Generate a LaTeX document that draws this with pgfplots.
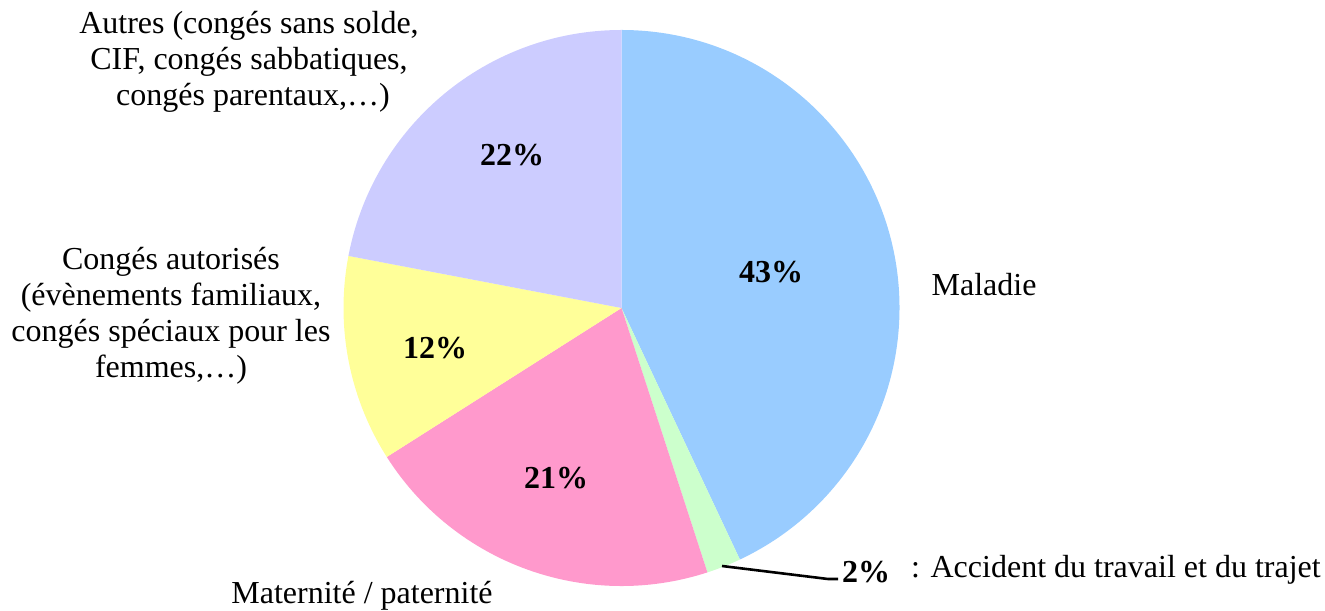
\documentclass[border=0pt]{standalone}
\usepackage{fontspec}
\setmainfont{Liberation Serif}
\usepackage{pgfplots}
\pgfplotsset{compat=1.18}
\definecolor{cMal}{HTML}{99CCFF}
\definecolor{cAcc}{HTML}{CCFFCC}
\definecolor{cMat}{HTML}{FF99CC}
\definecolor{cCon}{HTML}{FFFF99}
\definecolor{cAut}{HTML}{CCCCFF}
% shares (%), clockwise from 12 o'clock
\def\vMal{43}
\def\vAcc{2}
\def\vMat{21}
\def\vCon{12}
\def\vAut{22}
\begin{document}
\begin{tikzpicture}[every node/.append style={font=\fontsize{16pt}{18pt}\selectfont}]
\begin{axis}[x=0.5pt,y=0.5pt,xmin=0,xmax=1325,ymin=0,ymax=610,hide axis,clip=false]
\coordinate (BL) at (axis cs:0,0);
\coordinate (TR) at (axis cs:1325,610);
% slices
\fill[cMal] (axis cs:621.5,302) -- ++({90}:139pt) arc[start angle={90}, delta angle={-3.6*\vMal}, radius=139pt] -- cycle;
\fill[cAcc] (axis cs:621.5,302) -- ++({90-3.6*\vMal}:139pt) arc[start angle={90-3.6*\vMal}, delta angle={-3.6*\vAcc}, radius=139pt] -- cycle;
\fill[cMat] (axis cs:621.5,302) -- ++({90-3.6*(\vMal+\vAcc)}:139pt) arc[start angle={90-3.6*(\vMal+\vAcc)}, delta angle={-3.6*\vMat}, radius=139pt] -- cycle;
\fill[cCon] (axis cs:621.5,302) -- ++({90-3.6*(\vMal+\vAcc+\vMat)}:139pt) arc[start angle={90-3.6*(\vMal+\vAcc+\vMat)}, delta angle={-3.6*\vCon}, radius=139pt] -- cycle;
\fill[cAut] (axis cs:621.5,302) -- ++({90-3.6*(\vMal+\vAcc+\vMat+\vCon)}:139pt) arc[start angle={90-3.6*(\vMal+\vAcc+\vMat+\vCon)}, delta angle={-3.6*\vAut}, radius=139pt] -- cycle;
% percentage labels
\node[font=\fontsize{16pt}{18pt}\selectfont\bfseries] at (axis cs:771,338) {43\%};
\node[font=\fontsize{16pt}{18pt}\selectfont\bfseries] at (axis cs:556,132) {21\%};
\node[font=\fontsize{16pt}{18pt}\selectfont\bfseries] at (axis cs:435,262) {12\%};
\node[font=\fontsize{16pt}{18pt}\selectfont\bfseries] at (axis cs:512,455) {22\%};
\node[font=\fontsize{16pt}{18pt}\selectfont\bfseries] at (axis cs:866,38) {2\%};
% leader line
\draw[line width=1.3pt] (axis cs:722,44) -- (axis cs:828,31) -- (axis cs:838,31);
% category labels
\node at (axis cs:984,325) {Maladie};
\node[anchor=west] at (axis cs:904,40) {: Accident du travail et du trajet};
\node at (axis cs:362,14) {Maternité / paternité};
\node[align=center] at (axis cs:249,548) {Autres (congés sans solde,\\CIF, congés sabbatiques,\\ \ congés parentaux,…)};
\node[align=center] at (axis cs:171,294) {Congés autorisés\\(évènements familiaux,\\congés spéciaux pour les\\femmes,…)};
\end{axis}
\pgfresetboundingbox
\useasboundingbox (BL) rectangle (TR);
\end{tikzpicture}
\end{document}
